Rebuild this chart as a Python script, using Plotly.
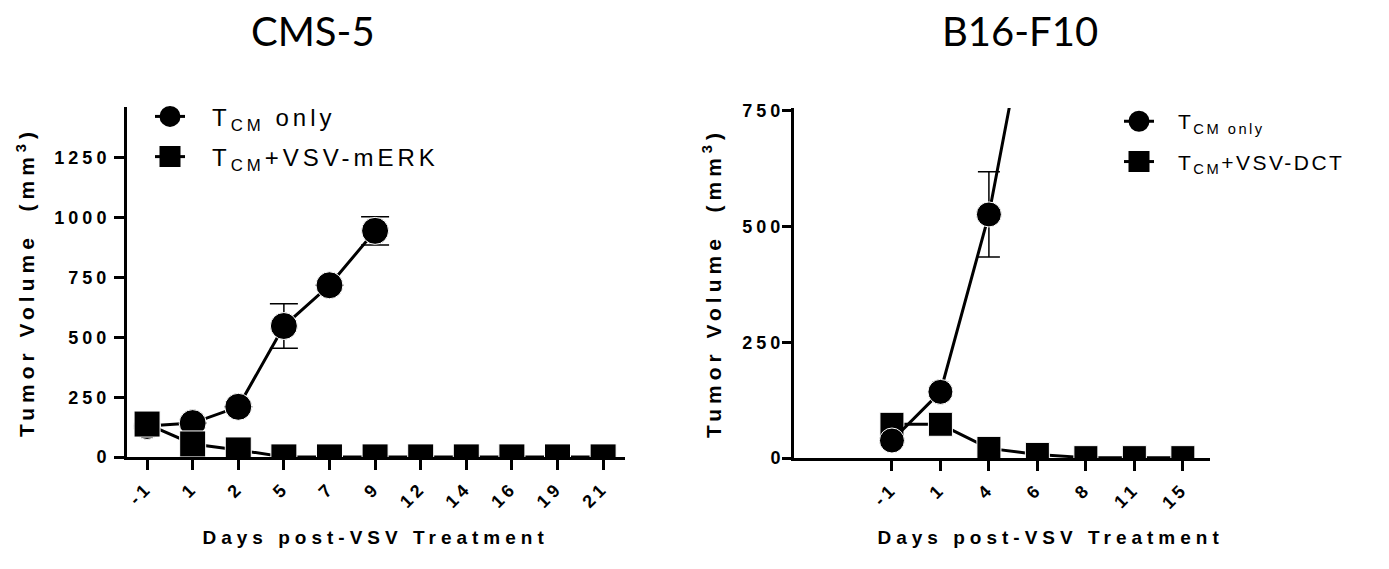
import json
import plotly.graph_objects as go

W, H = 1389, 569

# CMS-5 panel
cms_days = ["-1", "1", "2", "5", "7", "9", "12", "14", "16", "19", "21"]
cms_tcm_only = [130, 142, 210, 547, 717, 944, None, None, None, None, None]
cms_tcm_only_err = [None, None, None, 93, None, 59, None, None, None, None, None]
cms_tcm_merk = [138, 55, 30, 1, 1, 1, 1, 1, 1, 1, 1]
cms_yticks = [0, 250, 500, 750, 1000, 1250]

# B16-F10 panel
b16_days = ["-1", "1", "4", "6", "8", "11", "15"]
b16_tcm_only = [38, 143, 526, 1075, None, None, None]
b16_tcm_only_err = [None, None, 92, None, None, None, None]
b16_tcm_dct = [73, 73, 21, 8, 1, 1, 1]
b16_yticks = [0, 250, 500, 750]


def px_x(p):
    return p / W


def px_y(p):
    return 1 - p / H


SANS = "Liberation Sans, Arial"
AX_FONT = dict(family=SANS, size=18, color="black", weight="bold")
YTITLE_FONT = dict(family=SANS, size=21, color="black", weight="bold")
XTITLE_FONT = dict(family=SANS, size=19, color="black", weight="bold")
HEAD_FONT = dict(family="Lato", size=40, color="black")

fig = go.Figure()

line_style = dict(color="black", width=3)


def err(vals, half_cap):
    return dict(type="data", array=vals, visible=True, color="black",
                thickness=1.5, width=half_cap)


# left panel: circles under squares
fig.add_trace(go.Scatter(
    x=cms_days, y=cms_tcm_only, mode="lines+markers", xaxis="x", yaxis="y",
    line=line_style, marker=dict(symbol="circle", size=27, color="black",
                                 line=dict(color="white", width=1)),
    error_y=err(cms_tcm_only_err, 14), showlegend=False))
fig.add_trace(go.Scatter(
    x=cms_days, y=cms_tcm_merk, mode="lines+markers", xaxis="x", yaxis="y",
    line=line_style, marker=dict(symbol="square", size=26, color="black",
                                 line=dict(color="white", width=1)),
    showlegend=False))

# right panel: squares under circles
fig.add_trace(go.Scatter(
    x=b16_days, y=b16_tcm_dct, mode="lines+markers", xaxis="x2", yaxis="y2",
    line=line_style, marker=dict(symbol="square", size=24, color="black",
                                 line=dict(color="white", width=1)),
    showlegend=False))
fig.add_trace(go.Scatter(
    x=b16_days, y=b16_tcm_only, mode="lines+markers", xaxis="x2", yaxis="y2",
    line=line_style, marker=dict(symbol="circle", size=25, color="black",
                                 line=dict(color="white", width=1)),
    error_y=err(b16_tcm_only_err, 11), showlegend=False))

# legend entries
legend_entries = [
    ("legend", "x", "y", "circle", "T<sub>CM</sub> only"),
    ("legend", "x", "y", "square", "T<sub>CM</sub>+VSV-mERK"),
    ("legend2", "x2", "y2", "circle", "T<sub>CM only</sub>"),
    ("legend2", "x2", "y2", "square", "T<sub>CM</sub>+VSV-DCT"),
]
for i, (lg, xa, ya, sym, name) in enumerate(legend_entries):
    fig.add_trace(go.Scatter(
        x=[None], y=[None], mode="lines+markers", xaxis=xa, yaxis=ya,
        name=name, legend=lg, legendgroup=f"g{i}",
        line=dict(color="black", width=3),
        marker=dict(symbol=sym, size=16, color="black",
                    line=dict(color="black", width=5))))

axis_common = dict(
    showline=True, linecolor="black", linewidth=3, mirror=False,
    ticks="outside", tickwidth=3, tickcolor="black",
    showgrid=False, zeroline=False, tickfont=AX_FONT,
)

legend_common = dict(
    xanchor="left", yanchor="top", bgcolor="rgba(0,0,0,0)",
    traceorder="grouped",
)

fig.update_layout(
    width=W, height=H,
    margin=dict(l=0, r=0, t=0, b=0),
    paper_bgcolor="white", plot_bgcolor="white",
    xaxis=dict(domain=[px_x(127), px_x(625)], anchor="y", type="category",
               categoryorder="array", categoryarray=cms_days,
               range=[-0.44, 10.48], tickangle=-45, ticklen=10, **axis_common),
    yaxis=dict(domain=[px_y(464), px_y(103)], anchor="x", range=[0, 1461],
               tickvals=cms_yticks, ticklen=10,
               title=dict(text="Tumor Volume  (mm<sup>3</sup>)",
                          font=YTITLE_FONT, standoff=30),
               **axis_common),
    xaxis2=dict(domain=[px_x(794), px_x(1210)], anchor="y2", type="category",
                categoryorder="array", categoryarray=b16_days,
                range=[-2.02, 6.56], tickangle=-45, ticklen=10, **axis_common),
    yaxis2=dict(domain=[px_y(465), px_y(104)], anchor="x2", range=[0, 756],
                tickvals=b16_yticks, ticklen=9, ticklabelstandoff=-6,
                title=dict(text="Tumor Volume  (mm<sup>3</sup>)",
                           font=YTITLE_FONT, standoff=28),
                **axis_common),
    legend=dict(x=px_x(150), y=px_y(90), tracegroupgap=6,
                font=dict(family=SANS, size=24, color="black"), **legend_common),
    legend2=dict(x=px_x(1119), y=px_y(97), tracegroupgap=10,
                 font=dict(family=SANS, size=21, color="black"), **legend_common),
    annotations=[
        dict(text="CMS-5", x=px_x(313), y=px_y(25), xref="paper", yref="paper",
             showarrow=False, xanchor="center", yanchor="middle", font=HEAD_FONT),
        dict(text="B16-F10", x=px_x(1020), y=px_y(25), xref="paper", yref="paper",
             showarrow=False, xanchor="center", yanchor="middle", font=HEAD_FONT),
        dict(text="Days post-VSV Treatment", x=px_x(376), y=px_y(547),
             xref="paper", yref="paper", showarrow=False,
             xanchor="center", yanchor="middle", font=XTITLE_FONT),
        dict(text="Days post-VSV Treatment", x=px_x(1051), y=px_y(547),
             xref="paper", yref="paper", showarrow=False,
             xanchor="center", yanchor="middle", font=XTITLE_FONT),
    ],
)

# wider letter spacing for axis text and legend labels; legend labels sit
# a little further from their symbols and are never clipped
css = (
    "g.xtick text, g.x2tick text, g.ytick text, g.y2tick text {letter-spacing: 4px;}"
    " text.ytitle, text.y2title {letter-spacing: 5px;}"
    " text.legendtext {letter-spacing: 4px; transform: translateX(22px);}"
    " text.legend2text {letter-spacing: 2.5px; transform: translateX(19px);}"
    " g.legend .scrollbox, g.legend2 .scrollbox {clip-path: none !important;}"
    " g.annotation[data-index='2'] text, g.annotation[data-index='3'] text {letter-spacing: 5px;}"
)
post = ("var s=document.createElement('style');s.textContent=%s;"
        "document.head.appendChild(s);" % json.dumps(css))

fig.write_html("out.html", post_script=post)
